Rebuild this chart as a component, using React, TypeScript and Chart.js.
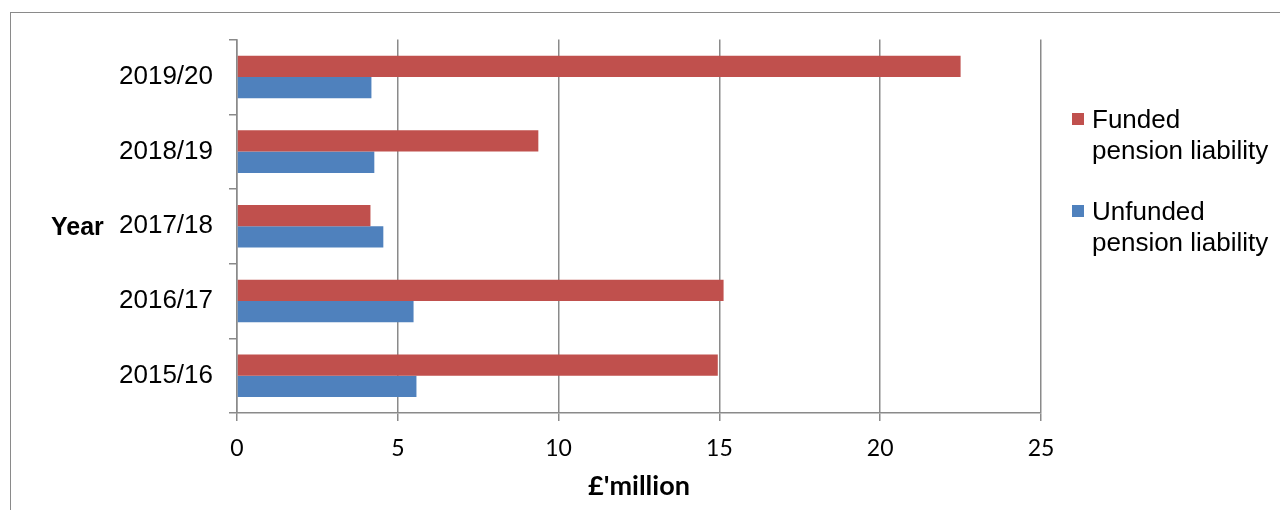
import React, { useEffect, useRef } from "react";
import { Chart, registerables } from "chart.js";

Chart.register(...registerables);

const categories = ["2019/20", "2018/19", "2017/18", "2016/17", "2015/16"];
const fundedValues = [22.5, 9.37, 4.15, 15.13, 14.95];
const unfundedValues = [4.18, 4.27, 4.55, 5.49, 5.58];
const seriesNames = ["Funded pension liability", "Unfunded pension liability"];
const legendLines = [
  ["Funded", "pension liability"],
  ["Unfunded", "pension liability"],
];
const xTicks = [0, 5, 10, 15, 20, 25];
const xTitle = "£'million";
const yTitle = "Year";

const RED = "#C0504D";
const BLUE = "#4F81BD";
const GRID = "#8a8a8a";

export default function App() {
  const ref = useRef<HTMLCanvasElement | null>(null);

  useEffect(() => {
    if (!ref.current) return;
    const chart = new Chart(ref.current, {
      type: "bar",
      data: {
        labels: categories,
        datasets: [
          {
            label: seriesNames[0],
            data: fundedValues,
            backgroundColor: RED,
            categoryPercentage: 0.57,
            barPercentage: 1.0,
          },
          {
            label: seriesNames[1],
            data: unfundedValues,
            backgroundColor: BLUE,
            categoryPercentage: 0.57,
            barPercentage: 1.0,
          },
        ],
      },
      options: {
        indexAxis: "y",
        animation: false,
        responsive: false,
        maintainAspectRatio: false,
        layout: { padding: { left: 0, top: 30, right: 231, bottom: 0 } },
        plugins: {
          legend: { display: false },
          tooltip: { enabled: false },
        },
        scales: {
          x: {
            type: "linear",
            min: 0,
            max: 25,
            afterBuildTicks: (scale: any) => {
              scale.ticks = xTicks.map((v) => ({ value: v }));
            },
            afterFit: (scale: any) => {
              scale.height = 89;
            },
            grid: {
              color: GRID,
              lineWidth: 1.5,
              drawTicks: true,
              tickLength: 8,
            },
            border: { display: true, color: GRID, width: 1.5 },
            ticks: {
              color: "#000",
              padding: 14,
              font: { family: "Lato", size: 23 },
            },
            title: {
              display: true,
              text: xTitle,
              color: "#000",
              font: { family: "Lato", size: 27, weight: "bold" },
              padding: { top: 0, bottom: 0 },
            },
          },
          y: {
            type: "category",
            afterFit: (scale: any) => {
              scale.width = 229;
            },
            grid: {
              display: true,
              drawOnChartArea: false,
              drawTicks: true,
              tickLength: 8,
              offset: true,
              color: GRID,
              lineWidth: 1.5,
            },
            border: { display: true, color: GRID, width: 1.5 },
            ticks: {
              color: "#000",
              padding: 16,
              font: { family: "'Liberation Sans', Arial, sans-serif", size: 26 },
            },
          },
        },
      },
    });
    return () => chart.destroy();
  }, []);

  const sans = "'Liberation Sans', Arial, sans-serif";

  return (
    <div
      style={{
        position: "relative",
        width: 1264,
        height: 494,
        background: "#fff",
      }}
    >
      <div
        style={{
          position: "fixed",
          left: 10,
          top: 12,
          width: 1400,
          height: 700,
          border: "1.5px solid #8a8a8a",
          boxSizing: "border-box",
          pointerEvents: "none",
        }}
      />
      <canvas
        ref={ref}
        width={1264}
        height={494}
        style={{ position: "absolute", left: 0, top: 0, width: 1264, height: 494 }}
      />
      <div
        style={{
          position: "absolute",
          left: 43,
          top: 203,
          fontFamily: sans,
          fontWeight: "bold",
          fontSize: 25,
          lineHeight: "30px",
          color: "#000",
        }}
      >
        {yTitle}
      </div>
      {legendLines.map((lines, i) => (
        <div
          key={i}
          style={{
            position: "absolute",
            left: 1064,
            top: 96 + i * 92,
            display: "flex",
            alignItems: "flex-start",
            fontFamily: sans,
            fontSize: 26,
            lineHeight: "31px",
            color: "#000",
          }}
        >
          <div
            style={{
              width: 12,
              height: 12,
              marginTop: 9,
              marginRight: 8,
              background: i === 0 ? RED : BLUE,
            }}
          />
          <div>
            {lines.map((l, j) => (
              <div key={j} style={{ whiteSpace: "nowrap" }}>
                {l}
              </div>
            ))}
          </div>
        </div>
      ))}
    </div>
  );
}
